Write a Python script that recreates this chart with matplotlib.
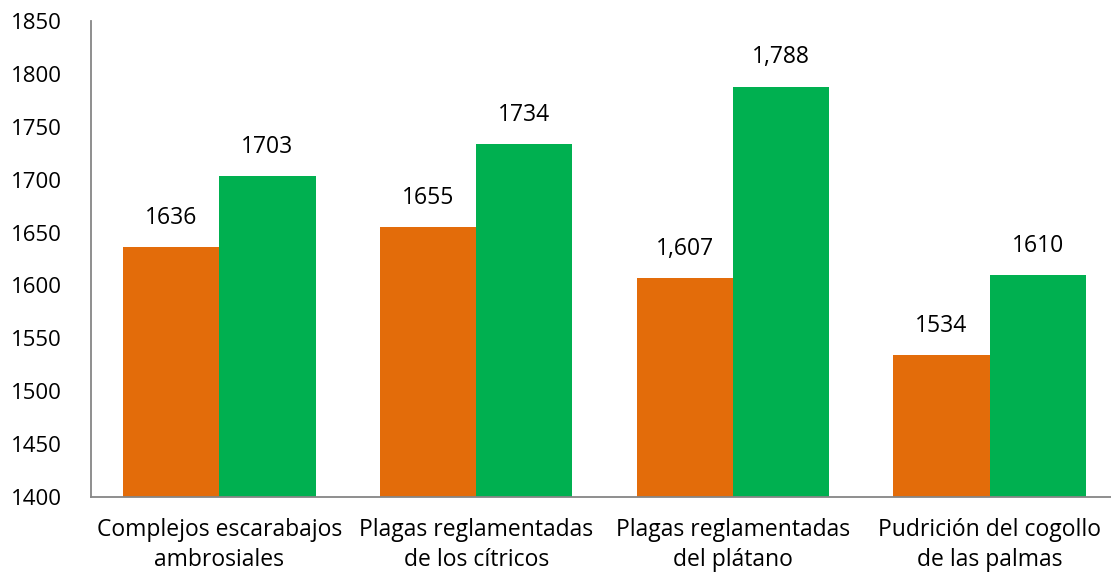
import numpy as np
import matplotlib.pyplot as plt

# Data
categories = ['Complejos escarabajos\nambrosiales', 'Plagas reglamentadas\nde los cítricos',
              'Plagas reglamentadas\ndel plátano', 'Pudrición del cogollo\nde las palmas']
serie_a = [1636, 1655, 1607, 1534]
serie_b = [1703, 1734, 1788, 1610]
labels_a = ['1636', '1655', '1,607', '1534']
labels_b = ['1703', '1734', '1,788', '1610']
yticks = [1400, 1450, 1500, 1550, 1600, 1650, 1700, 1750, 1800, 1850]

plt.rcParams['font.family'] = ['Open Sans', 'DejaVu Sans']

fig = plt.figure(figsize=(11.11, 5.74), dpi=100)
ax = fig.add_axes([91/1111, 1-497/574, 1027/1111, (497-21)/574])

x = np.arange(len(categories))
w = 0.375
ax.bar(x - w/2, serie_a, w, color='#E36C0A')
ax.bar(x + w/2, serie_b, w, color='#00B050')

for i in range(len(x)):
    ax.annotate(labels_a[i], (x[i] - w/2, serie_a[i]), xytext=(0, 21), textcoords='offset points',
                ha='center', va='center', fontsize=16.5)
    ax.annotate(labels_b[i], (x[i] + w/2, serie_b[i]), xytext=(0, 21), textcoords='offset points',
                ha='center', va='center', fontsize=16.5)

ax.set_xlim(-0.5, 3.5)
ax.set_ylim(1400, 1850)
ax.set_yticks(yticks)
ax.set_xticks(x)
ax.set_xticklabels(categories, fontsize=16.5, linespacing=1.35)
ax.tick_params(axis='y', length=0, labelsize=16, pad=21)
ax.tick_params(axis='x', length=0, pad=15)

for s in ['top', 'right']:
    ax.spines[s].set_visible(False)
ax.spines['left'].set_color('#868686')
ax.spines['bottom'].set_color('#868686')
ax.spines['left'].set_linewidth(1.3)
ax.spines['bottom'].set_linewidth(1.3)

fig.savefig('out.png', dpi=100)
